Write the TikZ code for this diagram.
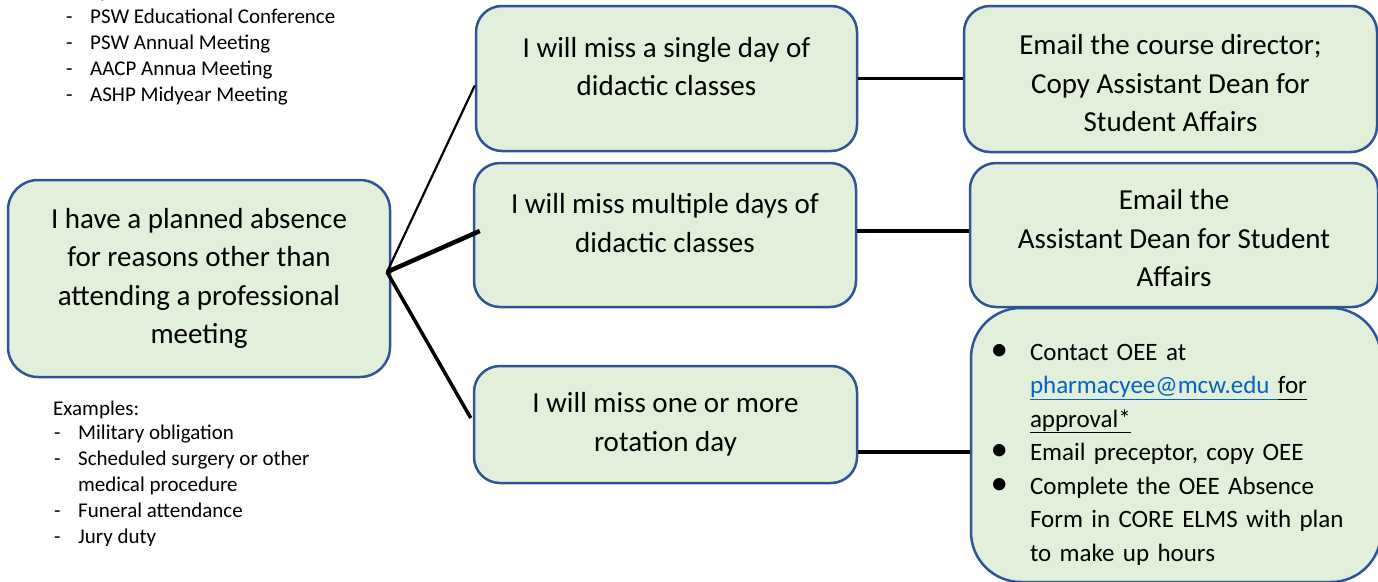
\documentclass[tikz,border=0pt]{standalone}
\usepackage{fontspec}
\setmainfont{Carlito}
\usetikzlibrary{calc,positioning}
\definecolor{boxfill}{HTML}{E2EFDA}
\definecolor{boxline}{HTML}{2F5597}
\definecolor{maillink}{HTML}{0563C1}
\tikzstyle{stepbox}=[draw=boxline,fill=boxfill,line width=2.5pt,rounded corners=26pt,
                align=center,inner sep=0pt,font=\fontsize{29}{38.5}\selectfont]
\tikzstyle{link}=[draw,line width=3.5pt]
\tikzstyle{note}=[anchor=base west,inner sep=0pt,font=\fontsize{21}{26}\selectfont]
\newcommand{\ulwd}[1]{\underline{\vphantom{p}#1}}
\newcommand{\bul}{\llap{\scalebox{1.4}{\textbullet}\hspace{22pt}}}

\begin{document}
\begin{tikzpicture}[x=1pt,y=-1pt]

\useasboundingbox (0,0) rectangle (1378,581);

% boxes
\node (plan) [stepbox,minimum width=382pt,minimum height=197pt,rounded corners=30pt] at (199,278.5)
  {I have a planned absence\\for reasons other than\\attending a professional\\meeting};

\node (single) [stepbox,minimum width=381pt,minimum height=145pt,text depth=24pt] at (666.5,78.5)
  {I will miss a single day of\\didactic classes};
\node (multi) [stepbox,minimum width=382pt,minimum height=144pt,text depth=24pt] at (665,235)
  {I will miss multiple days of\\didactic classes};
\node (rotation) [stepbox,minimum width=383pt,minimum height=117pt] at (665.5,424.5)
  {I will miss one or more\\rotation day};

\node (director) [stepbox,minimum width=413pt,minimum height=146pt,text height=106pt] at (1170.5,79)
  {Email the course director;\\Copy Assistant Dean for\\Student Affairs};
\node (dean) [stepbox,minimum width=408pt,minimum height=144pt,text height=104pt] at (1174,235)
  {Email the\\Assistant Dean for Student\\Affairs};
\node (oee) [stepbox,minimum height=274pt,rounded corners=50pt,align=left,text depth=186pt,
  text width=292pt,inner xsep=59pt,font=\fontsize{25}{33.5}\selectfont] at (1176,445)
  {\mbox{\bul Contact OEE at}\\
   \mbox{\textcolor{maillink}{\ulwd{pharmacyee@mcw.edu }}\ulwd{for}}\\
   \mbox{\ulwd{approval*}}\\
   \mbox{\bul Email preceptor, copy OEE}\\
   \mbox{\bul Complete the OEE Absence}\\
   \mbox{Form in CORE ELMS with plan}\\
   \mbox{to make up hours}};

% connectors
\coordinate (fork) at (387,272);
\draw[link,line width=2.2pt] (fork) -- ([yshift=-7pt]single.west);
\draw[link,line width=4.5pt] (fork) -- ([xshift=7pt,yshift=4pt]multi.west);
\draw[link] (fork) -- ([xshift=-2pt,yshift=6.5pt]rotation.west);

\draw[link] (single.east) -- (single.east -| director.west);
\draw[link] ([yshift=4pt]multi.east) coordinate (h2) -- (h2 -| dean.west);
\draw[link] ([yshift=-27.5pt]rotation.east) coordinate (h3) -- (h3 -| oee.west);

% examples above
\node[note] (topex) at (54,-3) {Examples:};
\foreach \y/\txt in {23/PSW Educational Conference,49/PSW Annual Meeting,
                     75/AACP Annua Meeting,101/ASHP Midyear Meeting} {
\node[note] (topdash\y) at (66,\y) {-};
\node[note] (topitem\y) at (90,\y) {\txt};
}

% examples below
\begin{scope}
\clip (0,390) rectangle (420,545);
\node[note] (lowex) at (53,415) {Examples:};
\foreach \y/\txt in {439/Military obligation,465/Scheduled surgery or other,
                     517/Funeral attendance,543/Jury duty} {
\node[note] (lowdash\y) at (54,\y) {-};
\node[note] (lowitem\y) at (78,\y) {\txt};
}
\node[note] (lowitem491) at (78,491) {medical procedure};
\end{scope}

\end{tikzpicture}
\end{document}
